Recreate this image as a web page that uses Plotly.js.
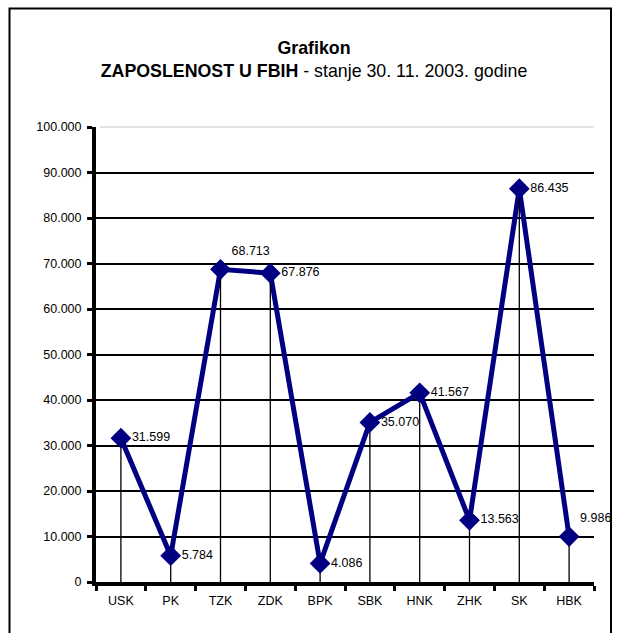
<!DOCTYPE html>
<html>
<head>
<meta charset="utf-8">
<script src="https://cdn.plot.ly/plotly-3.0.1.min.js"></script>
<style>html,body{margin:0;padding:0;background:#fff;}#chart{width:619px;height:633px;}</style>
</head>
<body>
<div id="chart"></div>
<script>
const categories = ["USK", "PK", "TZK", "ZDK", "BPK", "SBK", "HNK", "ZHK", "SK", "HBK"];
const employment = [31599, 5784, 68713, 67876, 4086, 35070, 41567, 13563, 86435, 9986];
const yTickValues = [0, 10000, 20000, 30000, 40000, 50000, 60000, 70000, 80000, 90000, 100000];
const labelPositions = ["middle right", "middle right", "top right", "middle right", "middle right",
                        "middle right", "middle right", "middle right", "middle right", "top right"];

const FONT = "Liberation Sans, Arial, sans-serif";
const NAVY = "#000080";

const lineTrace = {
  x: categories, y: employment, type: "scatter", mode: "lines",
  line: {color: NAVY, width: 5}, hoverinfo: "skip", showlegend: false
};
const dropTrace = {
  x: categories, y: employment, type: "scatter", mode: "markers",
  marker: {size: 1, opacity: 0},
  error_y: {type: "data", symmetric: false, array: employment.map(() => 0), arrayminus: employment,
            color: "#000", thickness: 1.3, width: 0},
  hoverinfo: "skip", showlegend: false
};
const markerTrace = {
  x: categories, y: employment, type: "scatter", mode: "markers+text",
  marker: {symbol: "diamond", size: 16, color: NAVY, line: {width: 0}},
  texttemplate: "%{y:,.0f}", textposition: labelPositions,
  textfont: {family: FONT, size: 12.5, color: "#000"},
  cliponaxis: false, showlegend: false
};

const layout = {
  width: 619, height: 633,
  margin: {l: 96, r: 25, t: 127, b: 51},
  paper_bgcolor: "#fff", plot_bgcolor: "#fff",
  separators: ",.",
  font: {family: FONT, size: 12.5, color: "#000"},
  title: {
    text: "<b>Grafikon</b><br><b>ZAPOSLENOST U FBIH</b> - stanje 30. 11. 2003. godine",
    x: 314 / 619, xref: "container", xanchor: "center",
    y: 1 - 53.5 / 633, yref: "container", yanchor: "middle",
    font: {family: FONT, size: 17.8, color: "#000"}
  },
  xaxis: {
    type: "category", range: [-0.5, 9.5], tickson: "boundaries",
    showline: true, linecolor: "#000", linewidth: 4,
    ticks: "outside", ticklen: 5, tickwidth: 3, tickcolor: "#000",
    ticklabelstandoff: 4,
    showgrid: false, zeroline: false, fixedrange: true,
    tickfont: {family: FONT, size: 12.5, color: "#000"}
  },
  yaxis: {
    range: [0, 100000], tickvals: yTickValues, tickformat: ",.0f",
    showline: true, linecolor: "#000", linewidth: 4,
    ticks: "outside", ticklen: 5, tickwidth: 3, tickcolor: "#000",
    ticklabelstandoff: 3,
    showgrid: true, gridcolor: "#000", gridwidth: 2, zeroline: false, fixedrange: true,
    tickfont: {family: FONT, size: 12.5, color: "#000"}
  },
  shapes: [
    {type: "line", xref: "paper", yref: "paper", x0: 0.008, x1: 1, y0: 1, y1: 1,
     line: {color: "#fff", width: 3}, layer: "above"},
    {type: "line", xref: "paper", yref: "paper", x0: 0.008, x1: 1, y0: 1, y1: 1,
     line: {color: "#c8c8c8", width: 1}, layer: "above"},
    {type: "rect", xref: "paper", yref: "paper",
     x0: (9.5 - 96) / 498, x1: (611 - 96) / 498,
     y0: (582 - 660) / 455, y1: (582 - 8.5) / 455,
     line: {color: "#000", width: 2}, fillcolor: "rgba(0,0,0,0)", layer: "below"}
  ]
};

Plotly.newPlot("chart", [lineTrace, dropTrace, markerTrace], layout, {displayModeBar: false, staticPlot: true});
</script>
</body>
</html>
